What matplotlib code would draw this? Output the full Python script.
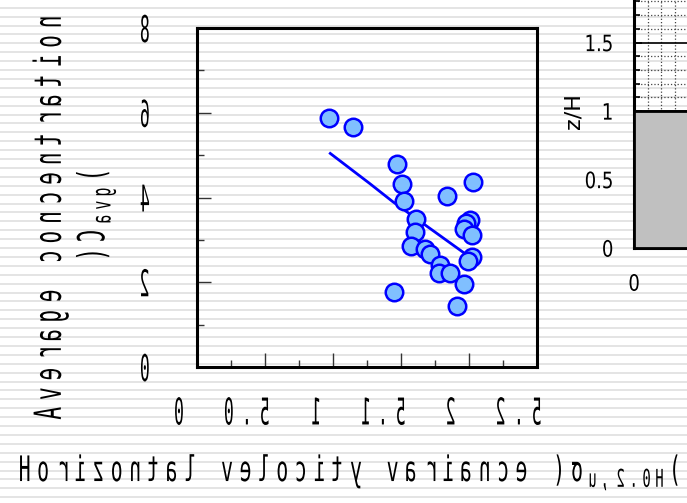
import matplotlib

matplotlib.use("Agg")
import matplotlib.pyplot as plt
import numpy as np
from matplotlib.patches import Rectangle
from matplotlib.path import Path
from matplotlib.patheffects import AbstractPathEffect
from matplotlib.ticker import MultipleLocator
from matplotlib.transforms import ScaledTranslation

# values
sigma_u = [0.97, 1.15, 1.47, 1.51, 1.52, 1.84, 2.03, 1.61, 1.60, 1.57, 1.68, 1.71,
           1.79, 1.78, 1.86, 1.96, 1.91, 1.45, 2.01, 1.98, 1.96, 2.02, 2.02, 1.99]
c_avg = [5.88, 5.67, 4.80, 4.32, 3.92, 4.03, 4.37, 3.49, 3.19, 2.86, 2.79, 2.66,
         2.41, 2.21, 2.21, 1.96, 1.44, 1.76, 3.48, 3.39, 3.25, 3.12, 2.60, 2.51]
fit_sigma = [0.98, 1.27, 1.44, 1.96]
fit_c = [5.04, 4.33, 3.90, 2.70]

x_ticks = [0, 0.5, 1, 1.5, 2, 2.5]
x_tick_labels = ["0", "0.5", "1", "1.5", "2", "2.5"]
y_ticks = [0, 2, 4, 6, 8]
y_tick_labels = ["0", "2", "4", "6", "8"]

# only the part of the inset that is inside the figure gets labels
inset_y_ticks = [0, 0.5, 1, 1.5]
inset_y_tick_labels = ["0", "0.5", "1", "1.5"]
inset_x_ticks = [0]
inset_x_tick_labels = ["0"]
building_height = 1.0

x_label = r"Horizontal velocity variance ($\sigma_{u,2.0H}$)"
y_label = "Average concentration\n" + r"(C$_{avg}$)"
inset_y_label = "z/H"

MONO = "DejaVu Sans Mono"
W, H = 687, 503


class GlyphWarp(AbstractPathEffect):
    """Draw text glyph by glyph, flipped left-right and squeezed/stretched."""

    def __init__(self, sx=1.0, sy=1.0, mirror=True, yc=36.5):
        super().__init__()
        self.sx, self.sy, self.mirror, self.yc = sx, sy, mirror, yc

    def draw_path(self, renderer, gc, tpath, affine, rgbFace=None):
        codes = tpath.codes
        verts = np.array(tpath.vertices, dtype=float)
        if codes is None or len(verts) == 0:
            renderer.draw_path(gc, tpath, affine, rgbFace)
            return
        valid = (codes != Path.CLOSEPOLY) & (codes != Path.STOP)
        starts = list(np.flatnonzero(codes == Path.MOVETO)) + [len(verts)]
        spans = []
        for a, b in zip(starts[:-1], starts[1:]):
            xs = verts[a:b, 0][valid[a:b]]
            if len(xs):
                spans.append((xs.min(), xs.max(), a, b))
        spans.sort()
        groups = []
        for x0, x1, a, b in spans:
            if groups and x0 < groups[-1][1] - 1:
                groups[-1][1] = max(groups[-1][1], x1)
                groups[-1][2].append((a, b))
            else:
                groups.append([x0, x1, [(a, b)]])
        k = -self.sx if self.mirror else self.sx
        for x0, x1, parts in groups:
            cx = (x0 + x1) / 2
            for a, b in parts:
                verts[a:b, 0] = cx + (verts[a:b, 0] - cx) * k
        verts[:, 1] = self.yc + (verts[:, 1] - self.yc) * self.sy
        renderer.draw_path(gc, Path(verts, codes), affine, rgbFace)


def box(left, top, right, bottom):
    return [left / W, 1 - bottom / H, (right - left) / W, (bottom - top) / H]


plt.rcParams["mathtext.fontset"] = "custom"
plt.rcParams["mathtext.rm"] = MONO
plt.rcParams["mathtext.it"] = MONO
plt.rcParams["mathtext.default"] = "regular"

fig = plt.figure(figsize=(W / 100, H / 100), dpi=100, facecolor="white")

# striped background
bg = fig.add_axes([0, 0, 1, 1], zorder=-1)
bg.set_xlim(0, 1)
bg.set_ylim(H, 0)
bg.axis("off")
bg.hlines(np.arange(7.7, H, 8.9), 0, 1, color="#dcdcdc", lw=1.1)

tick_warp = GlyphWarp(sx=0.55, sy=1.23)
label_warp = GlyphWarp(sx=0.65, sy=1.15)

# main scatter panel
ax = fig.add_axes(box(197, 28, 537, 367))
ax.patch.set_visible(False)
ax.plot(fit_sigma, fit_c, color="#0000ff", lw=2.0, zorder=2)
ax.plot(sigma_u, c_avg, "o", ms=12.6, mfc="#80bfff", mec="#0000ff", mew=1.8,
        zorder=3, clip_on=False)
ax.set_xlim(0, 2.5)
ax.set_ylim(0, 8)
ax.set_xticks(x_ticks, x_tick_labels)
ax.set_yticks(y_ticks, y_tick_labels)
ax.xaxis.set_minor_locator(MultipleLocator(0.25))
ax.yaxis.set_minor_locator(MultipleLocator(1))
ax.tick_params(which="both", direction="in", top=False, right=False,
               color="#333333", width=1.0, labelsize=21.6,
               labelfontfamily=MONO)
ax.tick_params(which="major", length=10)
ax.tick_params(which="minor", length=5)
ax.tick_params(axis="x", pad=23)
ax.tick_params(axis="y", pad=31)
for spine in ax.spines.values():
    spine.set_linewidth(2.2)

shift = ScaledTranslation(-0.18, 0, fig.dpi_scale_trans)
for lab in ax.get_xticklabels():
    lab.set_path_effects([tick_warp])
    lab.set_transform(lab.get_transform() + shift)
for lab in ax.get_yticklabels():
    lab.set_path_effects([tick_warp])

ax.set_xlabel(x_label, fontsize=22, family=MONO, ha="left", va="center",
              path_effects=[label_warp])
ax.xaxis.set_label_coords((15.5 - 197) / 340, (367 - 472) / 339)
ax.set_ylabel(y_label, fontsize=23.4, family=MONO, linespacing=1.4,
              path_effects=[label_warp])
ax.yaxis.set_label_coords((115 - 197) / 340, (367 - 217) / 339)

# building profile panel, cut by the figure edge
ax2 = fig.add_axes(box(634, 248 - 274, 634 + 137, 248))
ax2.patch.set_visible(False)
ax2.set_xlim(0, 1)
ax2.set_ylim(0, 2)
ax2.set_xticks(inset_x_ticks, inset_x_tick_labels)
ax2.set_yticks(inset_y_ticks, inset_y_tick_labels)
ax2.xaxis.set_minor_locator(MultipleLocator(0.1))
ax2.yaxis.set_minor_locator(MultipleLocator(0.1))
ax2.grid(which="minor", ls=":", color="#444444", lw=0.9)
ax2.grid(which="major", ls="-", color="black", lw=1.2)
ax2.tick_params(which="both", direction="in", top=False, right=False,
                color="black", width=1.2, labelsize=13)
ax2.tick_params(which="major", length=6)
ax2.tick_params(which="minor", length=4)
ax2.tick_params(axis="y", pad=15)
ax2.tick_params(axis="x", pad=19.5)
for spine in ax2.spines.values():
    spine.set_linewidth(2.2)
ax2.add_patch(Rectangle((0, 0), 1, building_height, fc="#c0c0c0", ec="black",
                        lw=2.0, zorder=3, clip_on=False))
inset_warp = GlyphWarp(sy=1.25, mirror=False)
for lab in ax2.get_xticklabels() + ax2.get_yticklabels():
    lab.set_path_effects([inset_warp])
ax2.set_ylabel(inset_y_label, fontsize=16)
ax2.yaxis.set_label_coords((583 - 634) / 137, 0.5)

fig.savefig("out.png", dpi=100)
